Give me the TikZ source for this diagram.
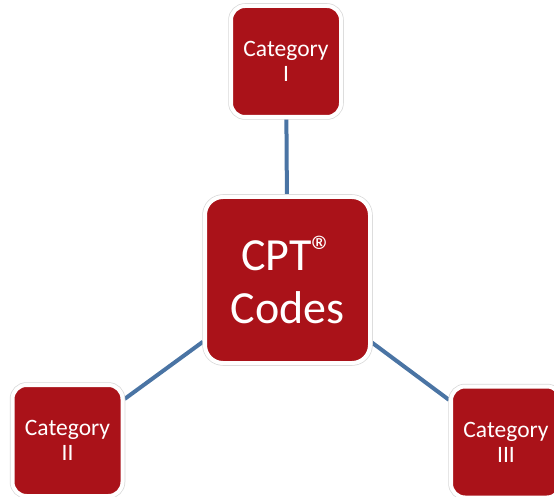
\documentclass[tikz,border=0pt]{standalone}
\usepackage{fontspec}
\setmainfont{Carlito}
\usetikzlibrary{backgrounds}
\definecolor{cptred}{HTML}{AA1219}
\definecolor{linkblue}{HTML}{4A74A4}
\tikzset{
  catbox/.style={rectangle, rounded corners=14pt, fill=cptred, text=white,
    align=center, draw=white, line width=4pt,
    preaction={draw=gray!30, line width=5.5pt},
    minimum width=110pt, minimum height=111pt, inner sep=0pt,
    font=\fontsize{23.5}{25}\selectfont},
  codebox/.style={catbox, rounded corners=18pt, minimum width=165pt,
    minimum height=166pt, font=\fontsize{46}{53}\selectfont},
  link/.style={draw=linkblue, line width=4pt}
}
\begin{document}
\begin{tikzpicture}[x=1pt,y=-1pt]
  \path[use as bounding box,clip] (0,0) rectangle (554,497);
  \draw
    (287.5,280) node[codebox] (cpt){CPT{\fontsize{44}{44}\selectfont\raisebox{3.5pt}{®}}\\Codes}
    (286,61.5) node[catbox] (cat1){Category\\I}
    (67.5,440.5) node[catbox] (cat2){Category\\II}
    (506,442) node[catbox] (cat3){Category\\III};
  \begin{scope}[on background layer]
    \draw[link] (cpt) to (cat1);
    \draw[link] (cpt) to (cat2);
    \draw[link] (cpt) to (cat3);
  \end{scope}
\end{tikzpicture}
\end{document}
